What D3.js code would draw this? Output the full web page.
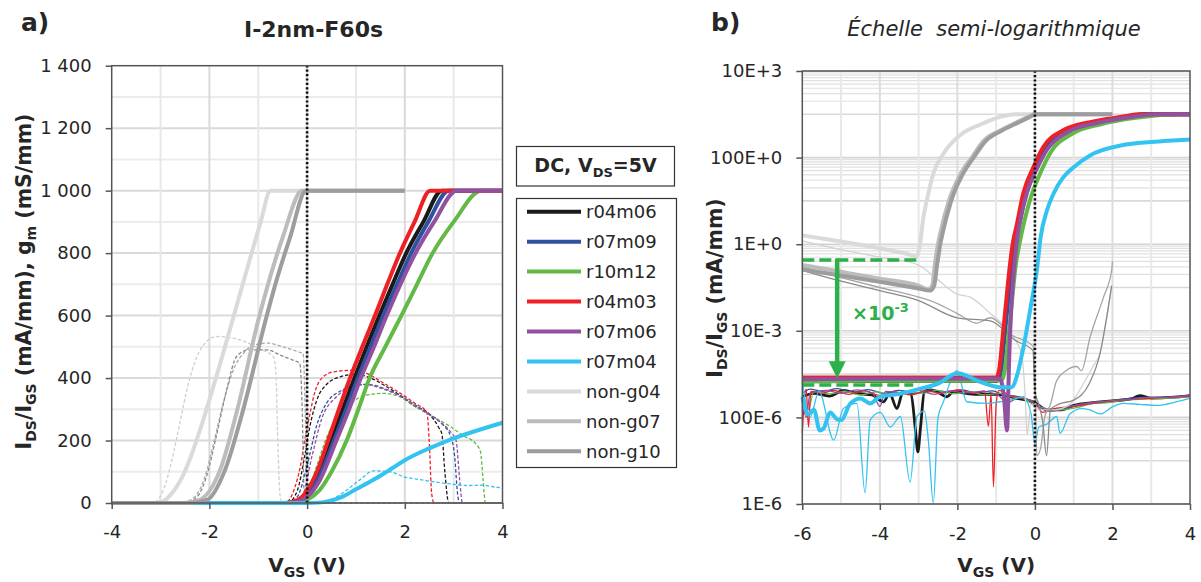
<!DOCTYPE html>
<html><head><meta charset="utf-8">
<script src="https://cdn.jsdelivr.net/npm/d3@7"></script>
<style>
body{margin:0;background:#fff}
svg text{font-family:"DejaVu Sans",Verdana,sans-serif;fill:#262626}
</style>
</head><body>
<svg id="c" width="1201" height="582"></svg>
<script>
// ---------- labels / ticks ----------
const seriesNames = ["r04m06","r07m09","r10m12","r04m03","r07m06","r07m04","non-g04","non-g07","non-g10"];
const xTicksA = [-4,-2,0,2,4];
const yTicksA = [0,200,400,600,800,1000,1200,1400];
const yTickLabelsA = ["0","200","400","600","800","1 000","1 200","1 400"];
const xTicksB = [-6,-4,-2,0,2,4];
const yTicksB = [1e-6,1e-4,1e-2,1,1e2,1e4];
const yTickLabelsB = ["1E-6","100E-6","10E-3","1E+0","100E+0","10E+3"];

// ---------- panel a : I_DS (mA/mm), linear ----------
const idsA_r04m06 = [[-4,0],[-0.4,0],[-0.1,10],[0,30],[0.2,80],[0.5,200],[0.73,300],[0.97,400],[1.22,500],[1.48,600],[1.75,700],[2.03,800],[2.38,900],[2.76,1000],[4,1000]];
const idsA_r07m09 = [[-4,0],[-0.4,0],[-0.1,8],[0,25],[0.2,70],[0.55,200],[0.8,300],[1.04,400],[1.3,500],[1.56,600],[1.84,700],[2.13,800],[2.48,900],[2.9,1000],[4,1000]];
const idsA_r10m12 = [[-4,0],[-0.2,0],[0,10],[0.25,40],[0.5,100],[0.81,200],[1.05,300],[1.28,400],[1.6,500],[1.93,600],[2.25,700],[2.57,800],[3.0,900],[3.57,1000],[4,1000]];
const idsA_r04m03 = [[-4,0],[-0.5,0],[-0.3,3],[-0.1,20],[0,40],[0.2,100],[0.43,200],[0.65,300],[0.88,400],[1.13,500],[1.39,600],[1.64,700],[1.9,800],[2.2,900],[2.52,1000],[4,1000]];
const idsA_r07m06 = [[-4,0],[-0.3,0],[0,20],[0.25,70],[0.6,200],[0.86,300],[1.1,400],[1.37,500],[1.63,600],[1.91,700],[2.22,800],[2.6,900],[3.06,1000],[4,1000]];
const idsA_r07m04 = [[-4,0],[0,0],[0.3,2],[0.5,8],[0.75,22],[1,44],[1.25,65],[1.5,87],[1.75,112],[2,137],[2.5,175],[3,207],[3.5,233],[4,257]];
const idsA_nong04 = [[-4,0],[-3.1,0],[-2.95,5],[-2.8,25],[-2.6,70],[-2.4,140],[-2.2,230],[-2.0,330],[-1.8,435],[-1.5,600],[-1.2,765],[-0.95,900],[-0.75,1000],[2,1000]];
const idsA_nong07 = [[-4,0],[-2.5,0],[-2.2,10],[-1.78,106],[-1.43,298],[-1.0,585],[-0.8,700],[-0.5,850],[-0.1,1000],[2,1000]];
const idsA_nong10 = [[-4,0],[-2.4,0],[-2.05,10],[-1.68,106],[-1.31,298],[-0.85,585],[-0.65,700],[-0.35,850],[-0.02,1000],[2,1000]];

// ---------- panel a : g_m (mS/mm), dashed ----------
const gmA_r04m06 = [[-4,0],[-0.4,0],[-0.2,40],[-0.05,150],[0.05,240],[0.2,330],[0.4,380],[0.7,405],[1.0,412],[1.3,400],[1.6,375],[1.9,345],[2.2,310],[2.5,285],[2.7,240],[2.76,220],[2.82,100],[2.9,0],[4,0]];
const gmA_r07m09 = [[-4,0],[-0.4,0],[-0.2,20],[0,120],[0.2,250],[0.4,320],[0.7,360],[1.0,378],[1.3,378],[1.6,365],[1.9,345],[2.2,315],[2.5,285],[2.75,255],[2.95,210],[3.02,150],[3.08,30],[3.12,0],[4,0]];
const gmA_r10m12 = [[-4,0],[-0.2,0],[0,30],[0.2,120],[0.4,210],[0.6,270],[0.9,320],[1.2,345],[1.57,351],[1.9,340],[2.2,310],[2.59,275],[2.93,245],[3.2,215],[3.45,190],[3.55,164],[3.6,80],[3.65,0],[4,0]];
const gmA_r04m03 = [[-4,0],[-0.5,0],[-0.4,5],[-0.25,50],[-0.14,116],[-0.05,200],[0.06,287],[0.15,350],[0.27,394],[0.54,420],[0.95,425],[1.22,415],[1.5,390],[1.91,351],[2.2,320],[2.45,290],[2.5,200],[2.55,30],[2.6,0],[4,0]];
const gmA_r07m06 = [[-4,0],[-0.3,0],[-0.1,20],[0.1,150],[0.3,270],[0.6,340],[0.9,372],[1.2,380],[1.5,368],[1.8,350],[2.1,325],[2.4,293],[2.7,262],[2.95,225],[3.05,200],[3.12,80],[3.18,0],[4,0]];
const gmA_r07m04 = [[-4,0],[0,0],[0.3,3],[0.55,15],[0.8,40],[1.08,74],[1.36,103],[1.7,100],[1.98,84],[2.3,75],[2.6,68],[3.0,60],[3.3,56],[3.6,57],[3.8,52],[4,48]];
const gmA_nong04 = [[-4,0],[-3.15,0],[-3.05,10],[-2.9,60],[-2.75,150],[-2.6,260],[-2.45,370],[-2.3,450],[-2.1,510],[-1.85,533],[-1.6,530],[-1.3,518],[-1.0,495],[-0.69,468],[-0.64,420],[-0.6,200],[-0.55,20],[-0.5,0],[4,0]];
const gmA_nong07 = [[-4,0],[-2.6,0],[-2.3,20],[-2.1,80],[-1.9,200],[-1.7,330],[-1.5,430],[-1.3,480],[-1.1,505],[-0.8,512],[-0.5,500],[-0.2,485],[-0.08,478],[-0.04,300],[0,0],[4,0]];
const gmA_nong10 = [[-4,0],[-2.5,0],[-2.25,20],[-2.05,90],[-1.85,220],[-1.65,360],[-1.44,470],[-1.2,490],[-0.82,490],[-0.5,470],[-0.25,455],[-0.15,447],[-0.1,300],[-0.06,30],[0,0],[4,0]];

// ---------- panel b : I_DS (mA/mm), log ----------
const idsB_r04m06 = [[-6,6.8e-4],[-3,7e-4],[-0.97,7e-4],[-0.89,1.2e-3],[-0.82,5e-3],[-0.72,0.04],[-0.62,0.3],[-0.53,1.2],[-0.45,2.5],[-0.27,14],[0,55],[0.26,165],[0.78,410],[1.5,650],[2.4,890],[2.85,1000],[4,1000]];
const idsB_r07m09 = [[-6,7.2e-4],[-4,7.4e-4],[-2,7.5e-4],[-0.95,7.5e-4],[-0.87,1.2e-3],[-0.8,5e-3],[-0.7,0.04],[-0.6,0.3],[-0.5,1.2],[-0.42,2.5],[-0.24,14],[0.02,55],[0.3,165],[0.82,400],[1.55,640],[2.45,880],[3.0,1000],[4,1000]];
const idsB_r10m12 = [[-6,6.8e-4],[-4,7e-4],[-2,7e-4],[-0.85,7.2e-4],[-0.78,1.2e-3],[-0.7,5e-3],[-0.6,0.04],[-0.5,0.3],[-0.4,1.0],[-0.32,2.2],[-0.12,11],[0.12,40],[0.4,130],[0.95,350],[1.7,590],[2.6,830],[3.4,980],[4,1000]];
const idsB_r04m03 = [[-6,8.3e-4],[-3,8.3e-4],[-1.0,8.3e-4],[-0.92,1.3e-3],[-0.85,5e-3],[-0.75,0.04],[-0.65,0.3],[-0.56,1.2],[-0.48,2.5],[-0.3,15],[-0.04,60],[0.22,178],[0.73,427],[1.42,660],[2.28,890],[2.7,1000],[4,1000]];
const idsB_r07m06 = [[-6,7.6e-4],[-4,7.8e-4],[-2,7.8e-4],[-0.9,7.8e-4],[-0.8,3e-4],[-0.72,5e-5],[-0.66,3e-3],[-0.6,0.05],[-0.52,0.4],[-0.45,1.5],[-0.38,3.5],[-0.2,16],[0.05,55],[0.33,160],[0.85,390],[1.6,630],[2.5,870],[3.1,1000],[4,1000]];
const idsB_r07m04 = [[-6,3e-4],[-5.85,1.2e-4],[-5.7,1.5e-4],[-5.55,5e-5],[-5.45,5.6e-5],[-5.28,1.3e-4],[-5.1,9e-5],[-5.0,8.7e-5],[-4.76,2.1e-4],[-4.5,2.75e-4],[-4.25,2.1e-4],[-4.0,3e-4],[-3.47,3.5e-4],[-3,4.5e-4],[-2.5,6e-4],[-2,1.05e-3],[-1.41,6.6e-4],[-0.9,5e-4],[-0.6,5e-4],[-0.47,8.7e-4],[-0.3,4e-3],[-0.1,0.04],[0.05,0.25],[0.15,1.5],[0.31,6],[0.5,16],[0.73,35],[1.0,60],[1.42,112],[2.28,195],[3,230],[4,263]];
const idsB_nong04 = [[-6,1.6],[-5,1.15],[-4,0.8],[-3.3,0.6],[-3.05,0.52],[-2.96,1.05],[-2.88,4],[-2.79,10],[-2.62,43],[-2.36,123],[-1.93,330],[-1.33,620],[-0.9,870],[-0.5,1000],[2,1000]];
const idsB_nong07 = [[-6,0.33],[-5,0.23],[-4,0.16],[-3,0.11],[-2.75,0.09],[-2.65,0.11],[-2.58,0.35],[-2.5,1.0],[-2.44,1.8],[-2.22,10],[-1.93,40],[-1.6,110],[-1.33,240],[-0.9,420],[-0.47,650],[-0.2,850],[0,1000],[2,1000]];
const idsB_nong10 = [[-6,0.26],[-5,0.19],[-4,0.135],[-3,0.095],[-2.7,0.085],[-2.6,0.11],[-2.52,0.35],[-2.44,1.0],[-2.38,1.8],[-2.16,10],[-1.87,40],[-1.55,110],[-1.27,240],[-0.85,420],[-0.42,650],[-0.15,850],[0.02,1000],[2,1000]];

// ---------- panel b : I_GS (mA/mm), log ----------
const igsB_r04m06 = [[-6,3e-4],[-5.7,3.6e-4],[-5.3,3.1e-4],[-4.93,4.2e-4],[-4.6,3.6e-4],[-4.2,3.3e-4],[-3.9,2.3e-4],[-3.75,3.6e-4],[-3.56,1.6e-4],[-3.4,3.9e-4],[-3.2,3.5e-4],[-3.08,5e-5],[-3.02,1.6e-5],[-2.95,6e-5],[-2.85,4e-4],[-2.68,4.3e-4],[-2.5,3.8e-4],[-2.27,3e-4],[-2.1,4e-4],[-1.8,3.6e-4],[-1.5,3.4e-4],[-1.0,3.4e-4],[-0.5,2.8e-4],[0,2.2e-4],[0.3,1.5e-4],[0.7,1.5e-4],[1,1.9e-4],[1.5,2.2e-4],[2,2.4e-4],[2.5,2.7e-4],[2.7,3.2e-4],[3,2.8e-4],[3.5,2.9e-4],[4,3.2e-4]];
const igsB_r07m09 = [[-6,3.5e-4],[-5.8,4.5e-4],[-5.5,4e-4],[-5.1,4.6e-4],[-4.7,3.8e-4],[-4.3,4.4e-4],[-3.9,3.6e-4],[-3.5,4.2e-4],[-3.1,3.5e-4],[-2.7,4.4e-4],[-2.3,3.9e-4],[-1.9,4.3e-4],[-1.5,3.7e-4],[-1.1,4.1e-4],[-0.8,3.3e-4],[-0.5,3.1e-4],[-0.2,2.6e-4],[0.1,1.9e-4],[0.4,1.4e-4],[0.8,1.6e-4],[1.2,2.0e-4],[1.6,2.3e-4],[2.0,2.4e-4],[2.4,2.7e-4],[2.8,2.9e-4],[3.2,2.8e-4],[3.6,3.0e-4],[4,3.2e-4]];
const igsB_r10m12 = [[-6,3e-4],[-5.85,1.5e-4],[-5.7,4e-4],[-5.3,3.5e-4],[-4.9,4e-4],[-4.5,3.3e-4],[-4.1,3.9e-4],[-3.7,3.4e-4],[-3.3,4e-4],[-2.9,3.6e-4],[-2.5,4.2e-4],[-2.1,3.5e-4],[-1.7,3.9e-4],[-1.3,3.3e-4],[-0.9,3.6e-4],[-0.6,3.0e-4],[-0.3,2.7e-4],[0,1.9e-4],[0.3,1.6e-4],[0.7,1.5e-4],[1.1,1.7e-4],[1.5,2.1e-4],[1.9,2.2e-4],[2.3,2.5e-4],[2.7,2.6e-4],[3.1,2.7e-4],[3.5,2.8e-4],[4,3.0e-4]];
const igsB_r04m03 = [[-6,4.3e-5],[-5.95,2.5e-4],[-5.9,4.5e-4],[-5.84,6e-5],[-5.78,4e-4],[-5.5,3.6e-4],[-5.2,4.2e-4],[-4.8,3.4e-4],[-4.4,4.1e-4],[-4.0,3.2e-4],[-3.6,3.9e-4],[-3.2,3.3e-4],[-2.8,4.1e-4],[-2.4,3.6e-4],[-2.0,4.3e-4],[-1.6,3.6e-4],[-1.3,4.1e-4],[-1.2,6.3e-5],[-1.13,3.5e-4],[-1.07,2.5e-6],[-1.0,2e-4],[-0.93,4.2e-4],[-0.6,3.1e-4],[-0.3,2.8e-4],[0,2.2e-4],[0.2,1.3e-4],[0.5,1.6e-4],[1,1.8e-4],[1.5,2.1e-4],[2,2.4e-4],[2.5,2.6e-4],[3,2.8e-4],[3.5,2.9e-4],[4,3.1e-4]];
const igsB_r07m06 = [[-6,2.5e-4],[-5.9,1e-4],[-5.8,3.5e-4],[-5.4,4.2e-4],[-5,3.6e-4],[-4.6,4.3e-4],[-4.2,3.7e-4],[-4.0,1.8e-4],[-3.85,4e-4],[-3.4,3.6e-4],[-3.0,4.2e-4],[-2.6,3.4e-4],[-2.2,4.1e-4],[-1.8,3.7e-4],[-1.4,4e-4],[-1.0,3.5e-4],[-0.7,2.2e-4],[-0.4,2.9e-4],[-0.1,2.4e-4],[0.2,1.6e-4],[0.5,1.5e-4],[0.9,1.8e-4],[1.3,2.1e-4],[1.7,2.3e-4],[2.1,2.5e-4],[2.5,2.6e-4],[2.9,2.9e-4],[3.3,2.9e-4],[3.7,3.0e-4],[4,3.3e-4]];
const igsB_r07m04 = [[-6,7e-4],[-5.8,1e-4],[-5.57,4e-4],[-5.19,3e-5],[-4.94,1.6e-4],[-4.59,2.1e-4],[-4.38,1.8e-6],[-4.25,8.7e-5],[-3.99,1.3e-4],[-3.73,6e-5],[-3.47,1.05e-4],[-3.22,3.2e-6],[-3.04,1.05e-4],[-2.85,1.4e-4],[-2.75,3e-5],[-2.62,1.05e-6],[-2.5,1e-4],[-2.36,2.3e-4],[-2.01,1.2e-3],[-1.76,2.3e-4],[-1.24,2.1e-4],[-0.9,2.3e-4],[-0.64,2.5e-4],[-0.3,3e-4],[-0.1,1.2e-4],[0.0,2.5e-5],[0.1,6e-5],[0.31,7e-5],[0.56,1.05e-4],[0.65,4.3e-5],[0.9,1.2e-4],[1.2,1.6e-4],[1.42,1.5e-4],[1.68,1.2e-4],[2.02,1.8e-4],[2.28,2.1e-4],[2.7,2e-4],[3.14,1.9e-4],[3.66,2.3e-4],[4,2.75e-4]];
const igsB_nong04 = [[-6,1.2],[-5,0.75],[-4,0.5],[-3,0.33],[-2.5,0.15],[-2,0.07],[-1.67,0.06],[-1.15,0.025],[-0.6,0.008],[-0.35,3e-3],[-0.25,3e-4],[-0.2,4e-5],[-0.1,2e-4],[0.1,1.5e-4],[0.5,1.5e-4],[0.9,2e-4],[1.2,5e-4],[1.5,1.5e-3],[1.68,3e-3],[1.85,0.02],[1.98,0.11]];
const igsB_nong07 = [[-6,0.3],[-5,0.17],[-4,0.1],[-3,0.06],[-2.7,0.05],[-2,0.025],[-1.5,0.015],[-1.15,0.02],[-0.6,0.008],[-0.04,4.3e-3],[0.0,1e-3],[0.05,1.3e-5],[0.15,2e-5],[0.25,1e-4],[0.4,2e-4],[0.56,7e-4],[0.8,1.2e-3],[1.08,1.5e-3],[1.2,1.2e-3],[1.42,7e-3],[1.77,0.06],[1.98,0.25],[2.0,0.4]];
const igsB_nong10 = [[-6,0.25],[-5,0.14],[-4,0.085],[-3,0.05],[-2,0.02],[-1.15,0.017],[-0.5,6e-3],[-0.05,3.5e-3],[0.0,4e-4],[0.1,2e-4],[0.2,8e-5],[0.3,1.3e-5],[0.4,1.5e-4],[0.6,2e-4],[1.0,2.5e-4],[1.4,6e-4],[1.68,3e-3],[1.85,0.02],[1.98,0.11]];

// ---------- annotation values (panel b) ----------
const annotVStart = -6, annotVEndTop = -3.0, annotVEndBottom = -3.14;
const annotITop = 0.43, annotIBottom = 5.6e-4;
const arrowV = -5.1, arrowTipI = 8e-4;

// ---------- styles ----------
const colors = ["#1a1a1a","#2f52a0","#62b946","#ee1f25","#9150a0","#33c3f1","#dadada","#bcbcbc","#9d9d9d"];
const gmColors = ["#1a1a1a","#2f52a0","#62b946","#ee1f25","#9150a0","#33c3f1","#cfcfcf","#a9a9a9","#8a8a8a"];
const igsColors = ["#1a1a1a","#2f52a0","#62b946","#ee1f25","#9150a0","#33c3f1","#d2d2d2","#a5a5a5","#8a8a8a"];
const idsA = [idsA_r04m06,idsA_r07m09,idsA_r10m12,idsA_r04m03,idsA_r07m06,idsA_r07m04,idsA_nong04,idsA_nong07,idsA_nong10];
const gmA = [gmA_r04m06,gmA_r07m09,gmA_r10m12,gmA_r04m03,gmA_r07m06,gmA_r07m04,gmA_nong04,gmA_nong07,gmA_nong10];
const idsB = [idsB_r04m06,idsB_r07m09,idsB_r10m12,idsB_r04m03,idsB_r07m06,idsB_r07m04,idsB_nong04,idsB_nong07,idsB_nong10];
const igsB = [igsB_r04m06,igsB_r07m09,igsB_r10m12,igsB_r04m03,igsB_r07m06,igsB_r07m04,igsB_nong04,igsB_nong07,igsB_nong10];

const svg = d3.select("#c");
const FONT = '"DejaVu Sans",Verdana,sans-serif';

const xA = d3.scaleLinear().domain([-4,4]).range([111.7,502.5]);
const yA = d3.scaleLinear().domain([0,1400]).range([503,65.7]);
const xB = d3.scaleLinear().domain([-6,4]).range([802.3,1190]);
const yB = d3.scaleLog().domain([1e-6,1e4]).range([504,71]);

// ---------- gridlines ----------
const gridA = svg.append("g");
d3.range(100,1400,100).forEach(v=>{
  gridA.append("line").attr("x1",xA(-4)).attr("x2",xA(4)).attr("y1",yA(v)).attr("y2",yA(v))
    .attr("stroke", v%200===0 ? "#dadada" : "#ececec").attr("stroke-width",2);
});
d3.range(-3,4).forEach(v=>{
  gridA.append("line").attr("x1",xA(v)).attr("x2",xA(v)).attr("y1",yA(0)).attr("y2",yA(1400))
    .attr("stroke", v%2===0 ? "#dadada" : "#e8e8e8").attr("stroke-width",2);
});
const gridB = svg.append("g");
[-5,-3,-1,1,3].forEach(e=>{
  d3.range(1,10).forEach(k=>{
    const v = k*Math.pow(10,e);
    gridB.append("line").attr("x1",xB(-6)).attr("x2",xB(4)).attr("y1",yB(v)).attr("y2",yB(v))
      .attr("stroke", k===1 ? "#d9d9d9" : "#e0e0e0").attr("stroke-width",k===1?1.6:1.2);
  });
});
yTicksB.forEach(v=>{
  gridB.append("line").attr("x1",xB(-6)).attr("x2",xB(4)).attr("y1",yB(v)).attr("y2",yB(v))
    .attr("stroke","#d4d4d4").attr("stroke-width",1.6);
});
d3.range(-5,4).forEach(v=>{
  gridB.append("line").attr("x1",xB(v)).attr("x2",xB(v)).attr("y1",yB(1e-6)).attr("y2",yB(1e4))
    .attr("stroke", v%2===0 ? "#dcdcdc" : "#e8e8e8").attr("stroke-width",2);
});

// ---------- curves ----------
const lineA = d3.line().x(d=>xA(d[0])).y(d=>yA(d[1])).curve(d3.curveMonotoneX);
const lineB = d3.line().x(d=>xB(d[0])).y(d=>yB(d[1])).curve(d3.curveMonotoneX);

const curvesA = svg.append("g").attr("fill","none");
gmA.forEach((d,i)=>{
  curvesA.append("path").attr("d",lineA(d)).attr("stroke",gmColors[i]).attr("stroke-width",1.3)
    .attr("stroke-dasharray","3.5,2");
});
idsA.forEach((d,i)=>{
  curvesA.append("path").attr("d",lineA(d)).attr("stroke",colors[i]).attr("stroke-width",4)
    .attr("stroke-linejoin","round");
});

const curvesB = svg.append("g").attr("fill","none");
igsB.forEach((d,i)=>{
  curvesB.append("path").attr("d",lineB(d)).attr("stroke",igsColors[i])
    .attr("stroke-width", i===0 ? 2.8 : 1.3).attr("stroke-linejoin","round");
});
idsB.forEach((d,i)=>{
  curvesB.append("path").attr("d",lineB(d)).attr("stroke",colors[i]).attr("stroke-width",4)
    .attr("stroke-linejoin","round");
});

// ---------- zero lines ----------
svg.append("line").attr("x1",xA(0)).attr("x2",xA(0)).attr("y1",yA(0)).attr("y2",yA(1400))
  .attr("stroke","#111").attr("stroke-width",2.6).attr("stroke-dasharray","2.2,2.2");
svg.append("line").attr("x1",xB(0)).attr("x2",xB(0)).attr("y1",yB(1e-6)).attr("y2",yB(1e4))
  .attr("stroke","#111").attr("stroke-width",2.6).attr("stroke-dasharray","2.2,2.2");

// ---------- annotation ----------
const green = "#2bb04a";
const ann = svg.append("g");
ann.append("line").attr("x1",xB(annotVStart)).attr("x2",xB(annotVEndTop)).attr("y1",yB(annotITop)).attr("y2",yB(annotITop))
  .attr("stroke",green).attr("stroke-width",3.5).attr("stroke-dasharray","12,5");
ann.append("line").attr("x1",xB(annotVStart)).attr("x2",xB(annotVEndBottom)).attr("y1",yB(annotIBottom)).attr("y2",yB(annotIBottom))
  .attr("stroke",green).attr("stroke-width",3.5).attr("stroke-dasharray","12,5");
const ax = xB(arrowV), tipY = yB(arrowTipI);
ann.append("line").attr("x1",ax).attr("x2",ax).attr("y1",yB(annotITop)-1.5).attr("y2",tipY-14)
  .attr("stroke",green).attr("stroke-width",4.5);
ann.append("path").attr("d",`M${ax-8.5},${tipY-17}L${ax+8.5},${tipY-17}L${ax},${tipY}Z`).attr("fill",green);
const at = ann.append("text").attr("x",852).attr("y",320).attr("font-weight","bold").attr("font-size",19)
  .style("fill",green).attr("font-family",FONT);
at.append("tspan").text("×10");
at.append("tspan").attr("font-size",13).attr("dy",-8).text("-3");

// ---------- frames & axes ----------
function frame(x0,x1,y0,y1){
  svg.append("rect").attr("x",x0).attr("y",y1).attr("width",x1-x0).attr("height",y0-y1)
    .attr("fill","none").attr("stroke","#555").attr("stroke-width",1.5);
}
frame(xA(-4),xA(4),yA(0),yA(1400));
frame(xB(-6),xB(4),yB(1e-6),yB(1e4));

function styleAxis(g){
  g.attr("font-family",FONT).attr("font-size",18).attr("color","#555");
  g.select(".domain").remove();
  g.selectAll(".tick line").attr("stroke-width",1.5);
  g.selectAll("text").style("fill","#262626");
}
svg.append("g").attr("transform",`translate(${xA(-4)},0)`)
  .call(d3.axisLeft(yA).tickValues(yTicksA).tickFormat((d,i)=>yTickLabelsA[i]).tickSize(6).tickPadding(14)).call(styleAxis);
svg.append("g").attr("transform",`translate(0,${yA(0)})`)
  .call(d3.axisBottom(xA).tickValues(xTicksA).tickFormat(d=>d3.format("")(d).replace("−","-")).tickSize(6).tickPadding(16)).call(styleAxis);
svg.append("g").attr("transform",`translate(${xB(-6)},0)`)
  .call(d3.axisLeft(yB).tickValues(yTicksB).tickFormat((d,i)=>yTickLabelsB[i]).tickSize(6).tickPadding(14)).call(styleAxis);
svg.append("g").attr("transform",`translate(0,${yB(1e-6)})`)
  .call(d3.axisBottom(xB).tickValues(xTicksB).tickFormat(d=>d3.format("")(d).replace("−","-")).tickSize(6).tickPadding(17)).call(styleAxis);

// ---------- text helpers ----------
function rich(sel, parts, subSize, shift){
  parts.forEach(p=>{
    if(p[1]){
      sel.append("tspan").attr("font-size",subSize).attr("dy",shift).text(p[0]);
    } else {
      const t = sel.append("tspan").text(p[0]);
      if(p[2]) t.attr("dy",-shift);
    }
  });
}
// axis titles
const xtA = svg.append("text").attr("x",(xA(-4)+xA(4))/2).attr("y",572).attr("text-anchor","middle")
  .attr("font-weight","bold").attr("font-size",20);
rich(xtA,[["V"],["GS",true],[" (V)",false,true]],14,5);
const xtB = svg.append("text").attr("x",(xB(-6)+xB(4))/2).attr("y",572).attr("text-anchor","middle")
  .attr("font-weight","bold").attr("font-size",20);
rich(xtB,[["V"],["GS",true],[" (V)",false,true]],14,5);

const ytA = svg.append("text").attr("transform",`translate(31,${(110+453)/2}) rotate(-90)`).attr("text-anchor","middle")
  .attr("font-weight","bold").attr("font-size",20.5);
rich(ytA,[["I"],["DS",true],["/I",false,true],["GS",true],[" (mA/mm), g",false,true],["m",true],[" (mS/mm)",false,true]],14,5);
const ytB = svg.append("text").attr("transform",`translate(722,288) rotate(-90)`).attr("text-anchor","middle")
  .attr("font-weight","bold").attr("font-size",20.5);
rich(ytB,[["I"],["DS",true],["/I",false,true],["GS",true],[" (mA/mm)",false,true]],14,5);

// titles
svg.append("text").attr("x",313.5).attr("y",37).attr("text-anchor","middle").attr("font-weight","bold")
  .attr("font-size",22).text("I-2nm-F60s");
svg.append("text").attr("x",21).attr("y",31).attr("font-weight","bold").attr("font-size",25).text("a)");
svg.append("text").attr("x",711).attr("y",31).attr("font-weight","bold").attr("font-size",25).text("b)");
svg.append("text").attr("x",994).attr("y",36).attr("text-anchor","middle").attr("font-style","italic")
  .attr("font-size",21).attr("xml:space","preserve").style("white-space","pre").text("Échelle  semi-logarithmique");

// ---------- legend ----------
const lg = svg.append("g");
lg.append("rect").attr("x",516.5).attr("y",146.5).attr("width",158).attr("height",39.5)
  .attr("fill","#fff").attr("stroke","#333").attr("stroke-width",1.2);
const lt = lg.append("text").attr("x",595.5).attr("y",172).attr("text-anchor","middle")
  .attr("font-weight","bold").attr("font-size",19);
rich(lt,[["DC, V"],["DS",true],["=5V",false,true]],13,5);
lg.append("rect").attr("x",516.5).attr("y",198.5).attr("width",160).attr("height",269)
  .attr("fill","#fff").attr("stroke","#333").attr("stroke-width",1.2);
seriesNames.forEach((n,i)=>{
  const cy = 211.7 + i*29.95;
  lg.append("line").attr("x1",527).attr("x2",581).attr("y1",cy).attr("y2",cy)
    .attr("stroke",colors[i]).attr("stroke-width",4);
  lg.append("text").attr("x",586).attr("y",cy+6.5).attr("font-size",18).text(n);
});
</script>
</body></html>
